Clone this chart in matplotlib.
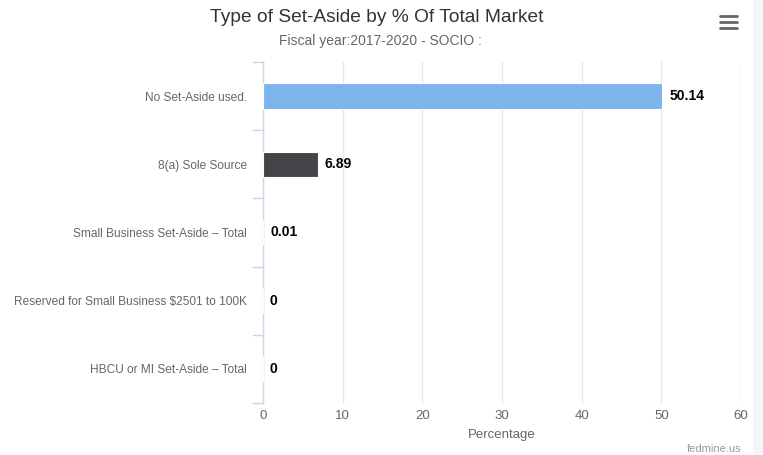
import matplotlib.pyplot as plt
from matplotlib.patches import Rectangle
from matplotlib.lines import Line2D

plt.rcParams['font.family'] = ['Liberation Sans', 'DejaVu Sans']

categories = ['No Set-Aside used.', '8(a) Sole Source', 'Small Business Set-Aside \u2013 Total',
              'Reserved for Small Business $2501 to 100K', 'HBCU or MI Set-Aside \u2013 Total']
values = [50.14, 6.89, 0.01, 0, 0]
labels = ['50.14', '6.89', '0.01', '0', '0']
colors = ['#7cb5ec', '#434348', '#90ed7d', '#f7a35c', '#8085e9']
xticks = [0, 10, 20, 30, 40, 50, 60]

fig = plt.figure(figsize=(7.63, 4.55), dpi=100)
W, H = 763, 455
ax = fig.add_axes([263 / W, 1 - 403 / H, (741 - 263) / W, (403 - 62) / H])

ypos = list(range(len(categories)))
ax.barh(ypos, values, height=0.37, color=colors, edgecolor='white', linewidth=0.8, zorder=3)
for y, v, t in zip(ypos, values, labels):
    ax.annotate(t, (v, y), xytext=(5, 0), textcoords='offset points', va='center', ha='left',
                fontsize=10, fontweight='bold', color='black', zorder=4)

ax.set_xlim(0, 60)
ax.set_ylim(len(categories) - 0.5, -0.5)
ax.set_xticks(xticks)
ax.set_xticklabels([str(x) for x in xticks])
ax.set_yticks(ypos)
ax.set_yticklabels(categories)
ax.grid(axis='x', color='#e6e6e6', linewidth=1, zorder=0)
ax.tick_params(axis='x', length=0, pad=5, labelsize=9.5, labelcolor='#666666')
ax.tick_params(axis='y', length=0, pad=11.5, labelsize=8.6, labelcolor='#666666')
for s in ['top', 'right', 'bottom']:
    ax.spines[s].set_visible(False)
ax.spines['left'].set_color('#ccd6eb')
ax.spines['left'].set_linewidth(1)

# category boundary ticks on the y axis
for b in [i - 0.5 for i in range(len(categories) + 1)]:
    ax.plot([-10 / 478 * 60, 0], [b, b], color='#ccd6eb', linewidth=1, clip_on=False, zorder=2)

ax.set_xlabel('Percentage', fontsize=9.5, color='#666666', labelpad=5)

fig.text(377 / W, 1 - 17 / H, 'Type of Set-Aside by % Of Total Market', ha='center', va='center',
         fontsize=13.8, color='#333333')
fig.text(380 / W, 1 - 41 / H, 'Fiscal year:2017-2020 - SOCIO :', ha='center', va='center',
         fontsize=10, color='#666666')
fig.text(741 / W, 1 - 449 / H, 'fedmine.us', ha='right', va='center', fontsize=8, color='#999999')

# menu icon
for yy in [16, 22, 28]:
    fig.add_artist(Line2D([720 / W, 737 / W], [1 - yy / H, 1 - yy / H], color='#666666',
                          linewidth=2.0, solid_capstyle='round'))

# light strip on the right edge
fig.add_artist(Rectangle((753 / W, 0), 10 / W, 1, transform=fig.transFigure,
                         facecolor='#f4f6fa', edgecolor='none'))

fig.savefig('out.png', dpi=100)
